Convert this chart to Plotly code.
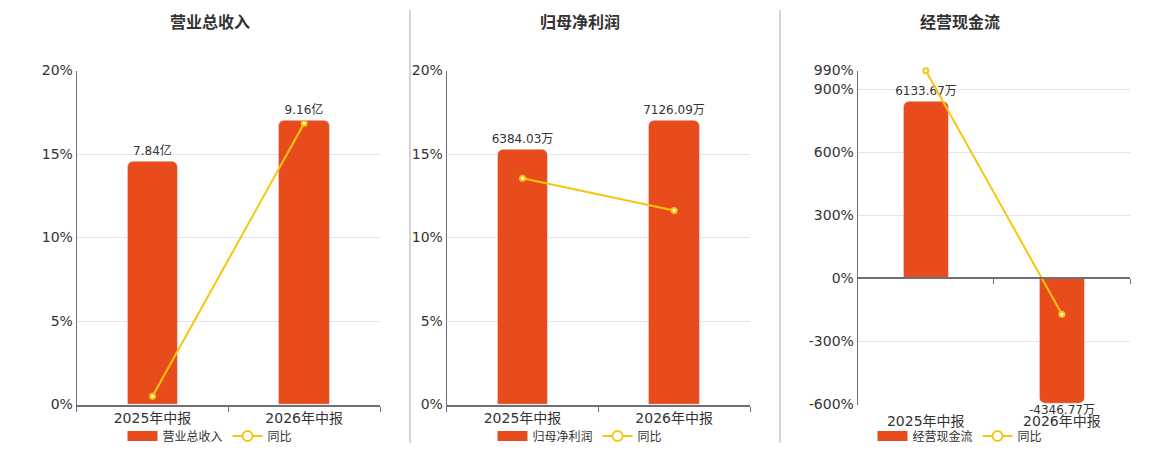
import plotly.graph_objects as go

# 报告期
periods = ["2025年中报", "2026年中报"]

# 营业总收入 (亿) 及同比 (%)
revenue = [7.84, 9.16]
revenue_yoy = [0.5, 16.84]

# 归母净利润 (万) 及同比 (%)
profit = [6384.03, 7126.09]
profit_yoy = [13.55, 11.62]

# 经营现金流 (万) 及同比 (%)
cashflow = [6133.67, -4346.77]
cashflow_yoy = [989.0, -170.87]

BAR_COLOR = "#E84C1C"
LINE_COLOR = "#F5C70F"
AXIS_COLOR = "#6E7079"
GRID_COLOR = "#E0E6F1"
FONT = "DejaVu Sans, Noto Sans CJK SC, sans-serif"

# page body has an 8px margin, so size the figure to fit the window
OFF = 8
W, H = 1160 - OFF, 450 - OFF


def px(x):
    return (x - OFF) / W


def py(y):
    return 1 - (y - OFF) / H


panels = [
    dict(title="营业总收入", values=revenue, yoy=revenue_yoy, unit="亿",
         x0=76.7, x1=380, center=210, pct_range=[0, 20], pct_ticks=[0, 5, 10, 15, 20]),
    dict(title="归母净利润", values=profit, yoy=profit_yoy, unit="万",
         x0=446.7, x1=750, center=580, pct_range=[0, 20], pct_ticks=[0, 5, 10, 15, 20]),
    dict(title="经营现金流", values=cashflow, yoy=cashflow_yoy, unit="万",
         x0=857.7, x1=1130, center=960, pct_range=[-600, 990],
         pct_ticks=[-600, -300, 0, 300, 600, 900, 990]),
]

y_dom = [py(404.5), py(70.5)]

fig = go.Figure()
layout = {}
annotations = []

for i, p in enumerate(panels):
    xid = "x" if i == 0 else f"x{i + 1}"
    ybar = "y" if i == 0 else f"y{2 * i + 1}"
    ypct = f"y{2 * i + 2}"
    leg = "legend" if i == 0 else f"legend{i + 1}"
    x_dom = [px(p["x0"]), px(p["x1"])]

    # bar axis shares zero with the percent axis
    pmin, pmax = p["pct_range"]
    bar_top = max(p["values"]) * 1.175
    bar_bottom = bar_top * pmin / pmax

    labels = [f"{v:.2f}{p['unit']}" for v in p["values"]]
    fig.add_trace(go.Bar(
        x=periods, y=p["values"], xaxis=xid, yaxis=ybar, width=0.33,
        marker=dict(color=BAR_COLOR, cornerradius=6),
        text=[t if v >= 0 else "" for t, v in zip(labels, p["values"])],
        textposition="outside", constraintext="none", cliponaxis=False,
        textfont=dict(size=12, color="#333"),
        showlegend=False, hoverinfo="skip",
    ))
    # negative bars: label sits right at the bar end
    for cat, v, t in zip(periods, p["values"], labels):
        if v < 0:
            annotations.append(dict(
                text=t, x=cat, y=v, xref=xid, yref=ybar, showarrow=False,
                yanchor="top", yshift=3, font=dict(size=12, color="#333"),
            ))

    fig.add_trace(go.Scatter(
        x=periods, y=p["yoy"], xaxis=xid, yaxis=ypct, mode="lines+markers",
        line=dict(color=LINE_COLOR, width=2),
        marker=dict(size=5, color="white", line=dict(color=LINE_COLOR, width=2)),
        cliponaxis=False, showlegend=False, hoverinfo="skip",
    ))

    # legend-only entries
    fig.add_trace(go.Scatter(
        x=[None], y=[None], xaxis=xid, yaxis=ybar, mode="lines", name=p["title"],
        line=dict(color=BAR_COLOR, width=13), legend=leg,
    ))
    fig.add_trace(go.Scatter(
        x=[None], y=[None], xaxis=xid, yaxis=ybar, mode="lines+markers", name="同比",
        line=dict(color=LINE_COLOR, width=2),
        marker=dict(size=10, color="white", line=dict(color=LINE_COLOR, width=2)),
        legend=leg,
    ))

    xkey = "xaxis" if i == 0 else f"xaxis{i + 1}"
    ybarkey = "yaxis" if i == 0 else f"yaxis{2 * i + 1}"
    ypctkey = f"yaxis{2 * i + 2}"

    has_negative = pmin < 0
    layout[xkey] = dict(
        domain=x_dom, anchor=ybar, type="category", range=[-0.5, 1.5],
        tickson="boundaries", ticks="outside", ticklen=5,
        tickcolor="rgba(0,0,0,0)" if has_negative else AXIS_COLOR,
        ticklabelstandoff=6 if has_negative else 0,
        showline=not has_negative, linecolor=AXIS_COLOR, linewidth=2,
        showgrid=False, tickfont=dict(size=14, color="#333"),
    )
    layout[ybarkey] = dict(domain=y_dom, anchor=xid, range=[bar_bottom, bar_top],
                           visible=False, showgrid=False)
    layout[ypctkey] = dict(
        domain=y_dom, anchor=xid, overlaying=ybar, side="left",
        range=p["pct_range"], tickmode="array", tickvals=p["pct_ticks"],
        ticktext=[f"{v}%" for v in p["pct_ticks"]],
        showgrid=True, gridcolor=GRID_COLOR, zeroline=False,
        showline=True, linecolor=AXIS_COLOR, linewidth=1,
        ticks="", tickfont=dict(size=14, color="#333"),
    )

    if has_negative:
        # category axis line drawn through zero
        zero_pos = y_dom[0] + (y_dom[1] - y_dom[0]) * (0 - pmin) / (pmax - pmin)
        layout["xaxis4"] = dict(
            overlaying=xid, anchor="free", position=zero_pos, type="linear",
            range=[-0.5, 1.5], tickvals=[-0.5, 0.5, 1.5], ticks="outside",
            ticklen=5, tickcolor=AXIS_COLOR, showticklabels=False,
            showline=True, linecolor=AXIS_COLOR, linewidth=2, showgrid=False,
            zeroline=False,
        )
        fig.add_trace(go.Scatter(x=[None], y=[None], xaxis="x4", yaxis=ybar,
                                 showlegend=False, hoverinfo="skip"))

    layout[leg] = dict(
        orientation="h", x=px(p["center"]), xanchor="center",
        y=py(436), yanchor="middle", font=dict(size=12, color="#333"),
        itemwidth=30, bgcolor="rgba(0,0,0,0)",
    )

    annotations.append(dict(
        text=f"<b>{p['title']}</b>", x=px(p["center"]), y=py(23),
        xref="paper", yref="paper", showarrow=False,
        font=dict(size=16, color="#333"), xanchor="center", yanchor="middle",
    ))

shapes = [
    dict(type="line", xref="paper", yref="paper", x0=px(xs), x1=px(xs),
         y0=py(443), y1=py(10), line=dict(color="#AAAAAA", width=1))
    for xs in (410, 780)
]

fig.update_layout(
    width=W, height=H, margin=dict(l=0, r=0, t=0, b=0, autoexpand=False),
    paper_bgcolor="white", plot_bgcolor="white",
    font=dict(family=FONT, color="#333"),
    bargap=0, annotations=annotations, shapes=shapes,
    **layout,
)

fig.write_html("out.html")
